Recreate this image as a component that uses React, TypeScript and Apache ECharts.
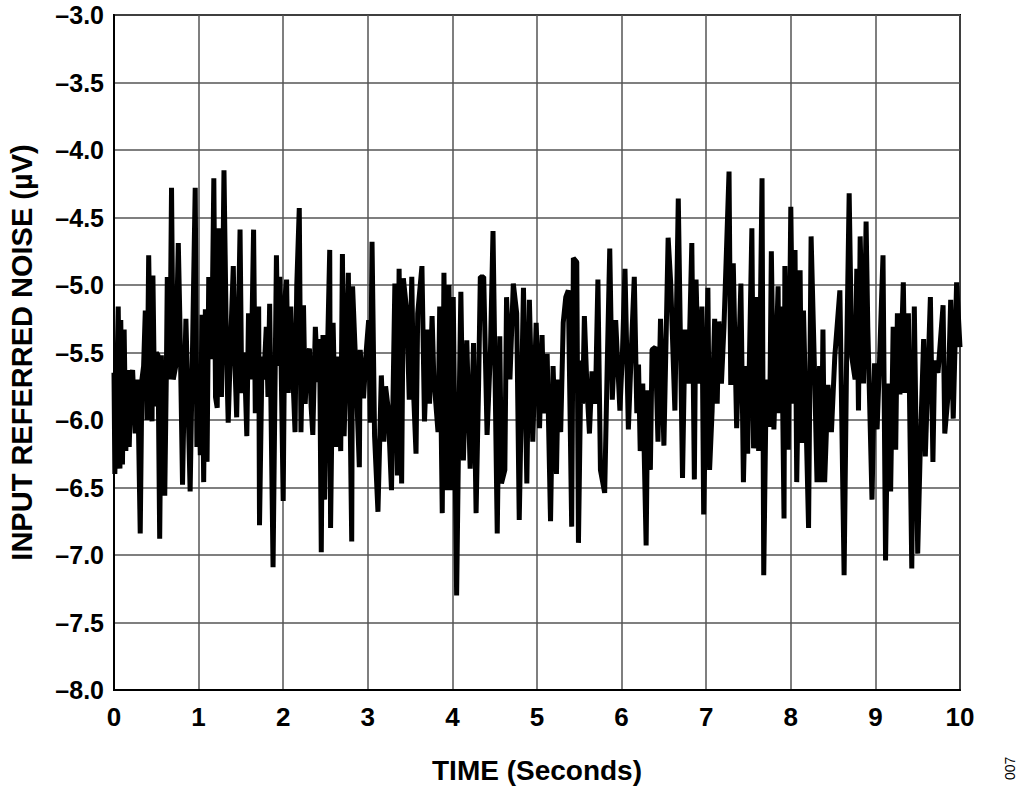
import React, { useEffect, useRef } from "react";
import * as echarts from "echarts";

// Time (s) / input referred noise (µV) samples
const NOISE_SAMPLES: [number, number][] = [
  [0.00,-5.65],[0.01,-6.40],[0.03,-5.80],[0.05,-5.16],[0.07,-6.36],[0.08,-5.26],[0.10,-6.33],[0.12,-5.33],[0.14,-6.23],[0.16,-5.63],
  [0.18,-6.20],[0.20,-5.70],[0.22,-5.63],[0.25,-6.10],[0.28,-5.70],[0.31,-6.84],[0.33,-5.70],[0.35,-5.60],[0.37,-5.19],[0.39,-6.00],
  [0.41,-4.78],[0.43,-5.60],[0.45,-6.01],[0.46,-4.93],[0.48,-5.90],[0.50,-5.50],[0.52,-5.52],[0.54,-6.88],[0.56,-5.52],[0.58,-6.20],
  [0.60,-6.56],[0.62,-5.60],[0.63,-4.94],[0.66,-5.70],[0.68,-4.28],[0.70,-5.70],[0.73,-5.60],[0.76,-4.69],[0.78,-5.30],[0.81,-6.48],
  [0.83,-5.80],[0.85,-5.25],[0.88,-6.00],[0.90,-6.53],[0.93,-5.40],[0.96,-4.28],[0.98,-6.20],[1.00,-5.65],[1.02,-6.26],[1.04,-5.22],
  [1.06,-6.46],[1.08,-5.18],[1.10,-6.31],[1.12,-4.94],[1.14,-5.55],[1.16,-5.25],[1.18,-4.21],[1.20,-5.83],[1.22,-5.91],[1.24,-4.58],
  [1.27,-5.83],[1.30,-4.15],[1.33,-5.50],[1.35,-6.02],[1.38,-5.40],[1.41,-4.86],[1.43,-5.60],[1.45,-5.98],[1.49,-4.59],[1.51,-5.80],
  [1.54,-5.50],[1.57,-6.12],[1.59,-5.21],[1.62,-5.70],[1.65,-4.59],[1.67,-5.95],[1.69,-5.40],[1.71,-5.16],[1.72,-6.78],[1.75,-5.53],
  [1.77,-5.70],[1.80,-5.31],[1.82,-5.83],[1.84,-5.14],[1.88,-7.09],[1.92,-4.78],[1.94,-5.60],[1.96,-4.94],[2.00,-6.60],[2.02,-5.10],
  [2.04,-4.96],[2.06,-5.80],[2.09,-5.16],[2.11,-5.60],[2.14,-6.09],[2.16,-5.01],[2.19,-4.43],[2.21,-6.09],[2.24,-5.15],[2.26,-5.88],
  [2.28,-5.60],[2.31,-5.47],[2.33,-5.90],[2.35,-6.11],[2.38,-5.31],[2.41,-5.72],[2.43,-5.40],[2.45,-6.98],[2.47,-5.37],[2.49,-6.59],
  [2.52,-5.60],[2.55,-4.74],[2.56,-6.80],[2.59,-5.28],[2.62,-6.20],[2.64,-5.53],[2.68,-6.23],[2.70,-4.77],[2.72,-6.12],[2.77,-4.91],
  [2.81,-6.90],[2.82,-5.01],[2.85,-5.48],[2.90,-6.35],[2.91,-5.48],[2.95,-5.84],[2.98,-5.50],[3.01,-5.26],[3.03,-6.02],[3.05,-4.68],
  [3.08,-6.12],[3.12,-6.68],[3.16,-5.67],[3.19,-6.16],[3.21,-5.75],[3.24,-5.91],[3.28,-6.52],[3.32,-4.99],[3.35,-6.41],[3.37,-4.88],
  [3.40,-6.47],[3.42,-4.95],[3.46,-5.19],[3.49,-5.85],[3.52,-4.94],[3.54,-5.78],[3.57,-6.25],[3.59,-5.21],[3.64,-4.86],[3.67,-6.01],
  [3.71,-5.33],[3.73,-5.88],[3.76,-5.23],[3.78,-5.68],[3.83,-6.09],[3.85,-5.16],[3.88,-6.69],[3.90,-4.91],[3.93,-6.52],[3.96,-5.00],
  [3.98,-6.52],[4.01,-5.09],[4.05,-7.30],[4.07,-6.30],[4.10,-5.05],[4.13,-6.30],[4.17,-5.41],[4.21,-6.36],[4.25,-5.43],[4.28,-6.69],
  [4.31,-5.73],[4.33,-4.94],[4.37,-4.94],[4.41,-6.11],[4.45,-5.48],[4.48,-4.60],[4.50,-5.48],[4.53,-6.84],[4.56,-5.38],[4.58,-6.47],
  [4.62,-6.37],[4.64,-5.09],[4.68,-5.70],[4.72,-4.99],[4.76,-5.21],[4.79,-6.74],[4.84,-5.02],[4.88,-6.47],[4.91,-5.11],[4.95,-6.16],
  [4.99,-5.28],[5.03,-6.06],[5.06,-5.37],[5.08,-5.95],[5.12,-5.51],[5.16,-6.75],[5.19,-5.60],[5.23,-6.40],[5.25,-5.70],[5.28,-6.09],
  [5.31,-5.28],[5.34,-5.09],[5.37,-5.04],[5.41,-6.79],[5.43,-4.80],[5.47,-4.83],[5.49,-6.91],[5.52,-5.56],[5.54,-5.88],[5.56,-5.23],
  [5.59,-5.75],[5.62,-6.10],[5.65,-5.64],[5.69,-5.88],[5.72,-4.96],[5.75,-6.37],[5.80,-6.54],[5.83,-5.60],[5.86,-4.73],[5.89,-5.85],
  [5.93,-5.26],[5.98,-5.93],[6.01,-5.50],[6.04,-4.88],[6.08,-6.07],[6.12,-5.40],[6.15,-4.94],[6.18,-5.95],[6.20,-5.59],[6.22,-6.23],
  [6.25,-5.73],[6.29,-6.93],[6.31,-5.78],[6.34,-6.37],[6.36,-5.48],[6.40,-5.46],[6.43,-6.16],[6.46,-5.25],[6.50,-6.19],[6.55,-4.65],
  [6.58,-4.98],[6.63,-5.93],[6.67,-4.36],[6.72,-6.43],[6.75,-5.33],[6.79,-5.73],[6.83,-4.69],[6.86,-6.44],[6.88,-4.96],[6.91,-5.73],
  [6.95,-5.16],[6.97,-6.70],[7.02,-5.02],[7.04,-6.37],[7.07,-5.93],[7.10,-5.25],[7.13,-5.88],[7.15,-5.27],[7.18,-5.73],[7.21,-5.31],
  [7.27,-4.16],[7.29,-5.74],[7.32,-4.84],[7.36,-6.06],[7.41,-4.99],[7.44,-6.46],[7.47,-5.60],[7.49,-6.25],[7.54,-4.58],[7.56,-6.21],
  [7.59,-5.09],[7.62,-6.23],[7.66,-4.21],[7.68,-7.15],[7.71,-5.70],[7.75,-6.05],[7.77,-4.75],[7.80,-6.07],[7.85,-5.01],[7.86,-5.95],
  [7.89,-5.16],[7.92,-6.73],[7.93,-4.86],[7.97,-6.22],[8.00,-4.42],[8.03,-5.88],[8.05,-4.74],[8.07,-6.46],[8.11,-4.89],[8.13,-6.17],
  [8.15,-5.19],[8.21,-6.80],[8.24,-4.64],[8.28,-5.63],[8.31,-6.46],[8.34,-5.60],[8.36,-6.46],[8.38,-5.33],[8.40,-6.46],[8.44,-5.74],
  [8.48,-6.09],[8.52,-5.53],[8.58,-5.04],[8.63,-7.15],[8.66,-5.53],[8.69,-4.32],[8.72,-5.53],[8.76,-5.70],[8.78,-4.88],[8.80,-5.93],
  [8.82,-4.64],[8.86,-5.73],[8.89,-4.53],[8.91,-5.31],[8.96,-6.59],[8.99,-5.58],[9.02,-6.07],[9.05,-5.54],[9.09,-4.78],[9.12,-7.04],
  [9.15,-5.73],[9.18,-6.53],[9.21,-5.31],[9.24,-6.22],[9.26,-5.21],[9.29,-5.81],[9.33,-4.98],[9.35,-5.80],[9.39,-5.21],[9.43,-7.10],
  [9.46,-5.16],[9.50,-6.99],[9.53,-6.22],[9.57,-5.40],[9.59,-6.27],[9.65,-5.09],[9.68,-6.31],[9.70,-5.56],[9.74,-5.65],[9.80,-5.15],
  [9.82,-6.10],[9.86,-5.81],[9.89,-5.11],[9.92,-5.99],[9.96,-4.98],[10.00,-5.46],
];

const X_RANGE = [0, 10];
const X_STEP = 1;
const Y_RANGE = [-8, -3];
const Y_STEP = 0.5;
const X_TITLE = "TIME (Seconds)";
const Y_TITLE = "INPUT REFERRED NOISE (µV)";
const FIGURE_ID = "007";

const FONT = "'Liberation Sans', Arial, Helvetica, sans-serif";

export default function App() {
  const ref = useRef<HTMLDivElement>(null);

  useEffect(() => {
    if (!ref.current) return;
    const chart = echarts.init(ref.current, undefined, { renderer: "svg" });
    chart.setOption({
      animation: false,
      backgroundColor: "#ffffff",
      grid: {
        left: 114,
        right: 64,
        top: 15,
        bottom: 104,
        outerBoundsMode: "none",
        containLabel: false,
        show: true,
        borderColor: "#000",
        borderWidth: 2,
        backgroundColor: "transparent",
      },
      xAxis: {
        type: "value",
        min: X_RANGE[0],
        max: X_RANGE[1],
        interval: X_STEP,
        name: X_TITLE,
        nameLocation: "middle",
        nameGap: 66,
        nameTextStyle: { fontFamily: FONT, fontWeight: "bold", fontSize: 28, color: "#000" },
        axisLine: { lineStyle: { color: "#000", width: 2 } },
        axisTick: { show: false },
        axisLabel: { fontFamily: FONT, fontWeight: "bold", fontSize: 26, color: "#000", margin: 14 },
        splitLine: { show: true, lineStyle: { color: "#555", width: 1.5 } },
      },
      yAxis: {
        type: "value",
        min: Y_RANGE[0],
        max: Y_RANGE[1],
        interval: Y_STEP,
        name: Y_TITLE,
        nameLocation: "middle",
        nameRotate: 90,
        nameGap: 78,
        nameTextStyle: { fontFamily: FONT, fontWeight: "bold", fontSize: 29, color: "#000" },
        axisLine: { show: true, lineStyle: { color: "#000", width: 2 } },
        axisTick: { show: false },
        axisLabel: {
          fontFamily: FONT,
          fontWeight: "bold",
          fontSize: 25,
          color: "#000",
          margin: 10,
          formatter: (v: number) => (v < 0 ? "\u2013" : "") + Math.abs(v).toFixed(1),
        },
        splitLine: { show: true, lineStyle: { color: "#555", width: 1.5 } },
      },
      series: [
        {
          type: "line",
          data: NOISE_SAMPLES,
          showSymbol: false,
          symbol: "none",
          lineStyle: { color: "#000", width: 5, join: "bevel" },
          z: 3,
        },
      ],
      graphic: [
        {
          type: "text",
          x: 1003,
          y: 780,
          rotation: Math.PI / 2,
          style: { text: FIGURE_ID, fontFamily: FONT, fontSize: 14, fill: "#000" },
        },
      ],
    });
    return () => chart.dispose();
  }, []);

  return (
    <div
      ref={ref}
      style={{ position: "fixed", left: 0, top: 0, width: 1024, height: 794, background: "#fff" }}
    />
  );
}
